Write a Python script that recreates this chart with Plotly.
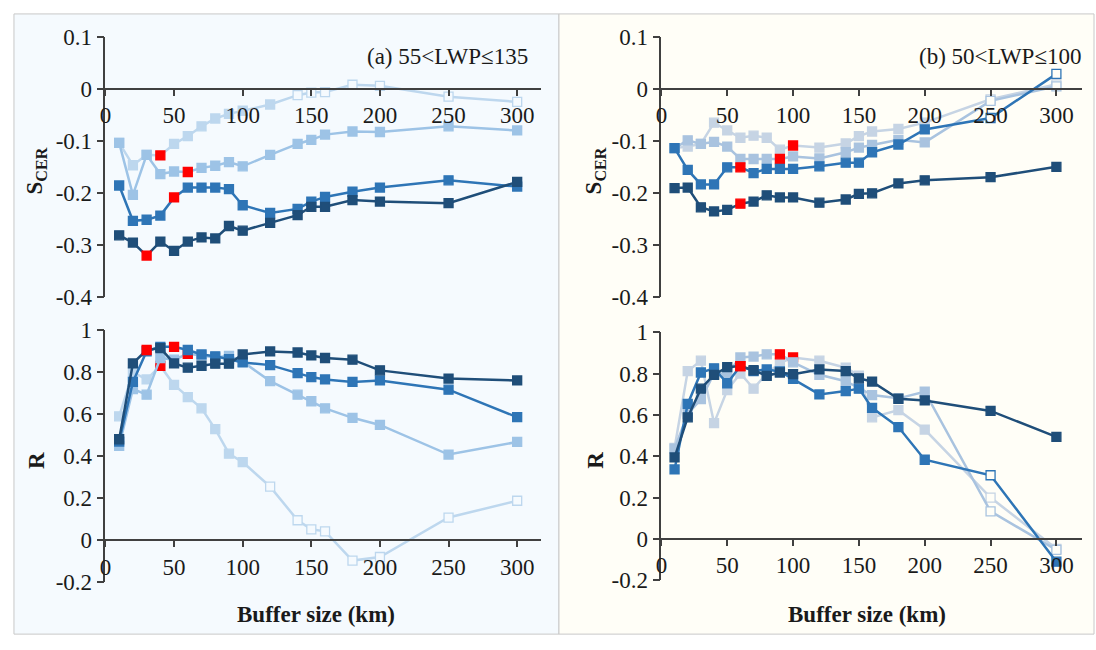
import plotly.graph_objects as go

# ---------------- data ----------------
BUFFER_KM = [10, 20, 30, 40, 50, 60, 70, 80, 90, 100, 120, 140, 150, 160, 180, 200, 250, 300]

X_TICKS = [0, 50, 100, 150, 200, 250, 300]
X_TICK_LABELS = ["0", "50", "100", "150", "200", "250", "300"]
S_TICKS = [0.1, 0, -0.1, -0.2, -0.3, -0.4]
S_TICK_LABELS = ["0.1", "0", "-0.1", "-0.2", "-0.3", "-0.4"]
R_TICKS = [1, 0.8, 0.6, 0.4, 0.2, 0, -0.2]
R_TICK_LABELS = ["1", "0.8", "0.6", "0.4", "0.2", "0", "-0.2"]

# Panel (a) 55<LWP<=135 : S_CER
a_s1 = [-0.282, -0.296, -0.321, -0.294, -0.312, -0.294, -0.286, -0.288, -0.264, -0.273, -0.258, -0.243, -0.227, -0.227, -0.214, -0.217, -0.220, -0.179]
a_s2 = [-0.186, -0.254, -0.252, -0.244, -0.209, -0.190, -0.190, -0.190, -0.193, -0.224, -0.239, -0.231, -0.217, -0.208, -0.198, -0.190, -0.176, -0.188]
a_s3 = [-0.104, -0.204, -0.127, -0.164, -0.159, -0.160, -0.152, -0.148, -0.141, -0.149, -0.127, -0.106, -0.098, -0.088, -0.082, -0.083, -0.072, -0.080]
a_s4 = [-0.104, -0.147, -0.127, -0.128, -0.106, -0.091, -0.072, -0.057, -0.048, -0.042, -0.030, -0.012, -0.007, -0.006, 0.008, 0.006, -0.015, -0.025]
# Panel (a) : R
a_r1 = [0.481, 0.842, 0.906, 0.915, 0.842, 0.822, 0.831, 0.841, 0.841, 0.885, 0.899, 0.894, 0.880, 0.868, 0.860, 0.809, 0.770, 0.761]
a_r2 = [0.470, 0.754, 0.900, 0.921, 0.921, 0.906, 0.885, 0.876, 0.862, 0.847, 0.834, 0.796, 0.777, 0.766, 0.754, 0.761, 0.717, 0.586]
a_r3 = [0.449, 0.720, 0.693, 0.868, 0.860, 0.888, 0.880, 0.870, 0.878, 0.850, 0.758, 0.693, 0.662, 0.628, 0.583, 0.549, 0.408, 0.468]
a_r4 = [0.590, 0.800, 0.766, 0.830, 0.740, 0.682, 0.628, 0.529, 0.412, 0.372, 0.255, 0.095, 0.052, 0.042, -0.097, -0.080, 0.108, 0.188]

# Panel (b) 50<LWP<=100 : S_CER
b_s1 = [-0.191, -0.190, -0.228, -0.236, -0.233, -0.221, -0.217, -0.205, -0.209, -0.209, -0.219, -0.213, -0.202, -0.201, -0.182, -0.176, -0.170, -0.150]
b_s2 = [-0.114, -0.156, -0.184, -0.184, -0.151, -0.151, -0.162, -0.154, -0.154, -0.154, -0.149, -0.142, -0.142, -0.122, -0.107, -0.078, -0.056, 0.029]
b_s3 = [-0.114, -0.099, -0.106, -0.102, -0.111, -0.135, -0.135, -0.135, -0.135, -0.130, -0.134, -0.122, -0.113, -0.108, -0.098, -0.103, -0.023, 0.005]
b_s4 = [-0.114, -0.111, -0.106, -0.065, -0.080, -0.094, -0.090, -0.094, -0.117, -0.109, -0.113, -0.105, -0.091, -0.082, -0.077, -0.065, -0.020, 0.009]
# Panel (b) : R
b_r1 = [0.394, 0.588, 0.727, 0.794, 0.831, 0.836, 0.816, 0.789, 0.805, 0.797, 0.820, 0.812, 0.777, 0.761, 0.678, 0.670, 0.619, 0.494]
b_r2 = [0.336, 0.653, 0.805, 0.825, 0.753, 0.836, 0.812, 0.820, 0.810, 0.774, 0.699, 0.715, 0.727, 0.634, 0.541, 0.383, 0.308, -0.110]
b_r3 = [0.437, 0.605, 0.676, 0.800, 0.800, 0.878, 0.882, 0.893, 0.893, 0.854, 0.794, 0.763, 0.730, 0.696, 0.680, 0.712, 0.133, -0.053]
b_r4 = [0.440, 0.812, 0.862, 0.560, 0.720, 0.800, 0.727, 0.800, 0.850, 0.878, 0.862, 0.828, 0.790, 0.588, 0.623, 0.529, 0.200, -0.048]

# highlighted (red) buffer size per series, panel a / panel b
a_red = [30, 50, 60, 40]
b_red = [60, 60, 90, 100]
# open (non-significant) markers per series
a_open_s = [[], [], [], [140, 150, 160, 180, 200, 250, 300]]
a_open_r = [[], [], [], [120, 140, 150, 160, 180, 200, 250, 300]]
b_open_s = [[], [250, 300], [250, 300], [250, 300]]
b_open_r = [[], [250], [250, 300], [250, 300]]

COLORS_A = ["#1F4E79", "#2E75B6", "#9DC3E6", "#BDD7EE"]
COLORS_B = ["#1F4E79", "#2E75B6", "#A9C3DF", "#C6D4E4"]
BG_A = "#F5FAFE"
BG_B = "#FFFEF7"

# ---------------- layout helpers ----------------
W, H = 1096, 650
def fx(px):
    return px / W
def fy(py):
    return 1 - py / H

FONT = "Liberation Serif"
TXT = "#1a1a1a"
AX = "#404040"

fig = go.Figure()

def add_series(y, color, red_x, open_x, xa, ya, bg):
    fills, lines = [], []
    for x in BUFFER_KM:
        if x == red_x:
            fills.append("#FF0000"); lines.append("#FF0000")
        elif x in open_x:
            fills.append(bg); lines.append(color)
        else:
            fills.append(color); lines.append(color)
    fig.add_trace(go.Scatter(
        x=BUFFER_KM, y=y, mode="lines+markers",
        line=dict(color=color, width=2.5),
        marker=dict(symbol="square", size=9, color=fills, line=dict(color=lines, width=1.3)),
        xaxis=xa, yaxis=ya, showlegend=False, hoverinfo="skip"))

panels = [
    ([a_s1, a_s2, a_s3, a_s4], COLORS_A, a_red, a_open_s, "x", "y", BG_A),
    ([a_r1, a_r2, a_r3, a_r4], COLORS_A, a_red, a_open_r, "x2", "y2", BG_A),
    ([b_s1, b_s2, b_s3, b_s4], COLORS_B, b_red, b_open_s, "x3", "y3", BG_B),
    ([b_r1, b_r2, b_r3, b_r4], COLORS_B, b_red, b_open_r, "x4", "y4", BG_B),
]
for series, cols, reds, opens, xa, ya, bg in panels:
    for i in [3, 2, 1, 0]:
        add_series(series[i], cols[i], reds[i], opens[i], xa, ya, bg)

tickfont = dict(family=FONT, size=23, color=TXT)

def yaxis_def(dom, rng, tv, tt, anchor):
    return dict(domain=dom, range=rng, tickvals=tv, ticktext=tt, anchor=anchor,
                showline=True, linecolor=AX, linewidth=1.5, ticks="outside",
                ticklen=7, tickcolor=AX, tickwidth=1.5, showgrid=False, zeroline=False,
                tickfont=tickfont)

def xaxis_def(dom, rng, ydom, yrng):
    pos = ydom[0] + (0 - yrng[0]) / (yrng[1] - yrng[0]) * (ydom[1] - ydom[0])
    return dict(domain=dom, range=rng, tickvals=X_TICKS, ticktext=X_TICK_LABELS,
                anchor="free", position=pos,
                showline=True, linecolor=AX, linewidth=1.5, ticks="outside",
                ticklen=6, tickcolor=AX, tickwidth=1.5, showgrid=False, zeroline=False,
                tickfont=tickfont)

XD_A = [fx(100), fx(538)]
XD_B = [fx(659), fx(1082)]
XR_A = [0, 317.4]
XR_B = [0, 319.5]
YD_TOP = [fy(296), fy(26)]
YD_BOT_A = [fy(593), fy(331)]
YD_BOT_B = [fy(591), fy(333)]
YR_S = [-0.4, 0.1]
YR_R = [-0.2, 1.0]

fig.update_layout(
    width=W, height=H,
    margin=dict(l=0, r=0, t=0, b=0),
    paper_bgcolor="white", plot_bgcolor="rgba(0,0,0,0)",
    xaxis=xaxis_def(XD_A, XR_A, YD_TOP, YR_S),
    yaxis=yaxis_def(YD_TOP, YR_S, S_TICKS, S_TICK_LABELS, "x"),
    xaxis2=xaxis_def(XD_A, XR_A, YD_BOT_A, YR_R),
    yaxis2=yaxis_def(YD_BOT_A, YR_R, R_TICKS, R_TICK_LABELS, "x2"),
    xaxis3=xaxis_def(XD_B, XR_B, YD_TOP, YR_S),
    yaxis3=yaxis_def(YD_TOP, YR_S, S_TICKS, S_TICK_LABELS, "x3"),
    xaxis4=xaxis_def(XD_B, XR_B, YD_BOT_B, YR_R),
    yaxis4=yaxis_def(YD_BOT_B, YR_R, R_TICKS, R_TICK_LABELS, "x4"),
    shapes=[
        dict(type="rect", xref="paper", yref="paper", x0=fx(8), x1=fx(556), y0=fy(647), y1=fy(2),
             fillcolor=BG_A, line=dict(color="#C8C8C8", width=1), layer="below"),
        dict(type="rect", xref="paper", yref="paper", x0=fx(556), x1=fx(1094), y0=fy(647), y1=fy(2),
             fillcolor=BG_B, line=dict(color="#C8C8C8", width=1), layer="below"),
    ],
)

ann = []
def text(px, py, s, size=20, bold=False, angle=0, xanchor="center"):
    ann.append(dict(x=fx(px), y=fy(py), xref="paper", yref="paper", text=("<b>%s</b>" % s) if bold else s,
                    showarrow=False, textangle=angle, xanchor=xanchor, yanchor="middle",
                    font=dict(family=FONT, size=size, color=TXT)))

text(444, 46, "(a) 55&lt;LWP≤135", size=23)
text(1000, 46, "(b) 50&lt;LWP≤100", size=23)
text(312, 627, "Buffer size (km)", size=23, bold=True)
text(866, 627, "Buffer size (km)", size=23, bold=True)
for px in (30, 592):
    text(px, 165, "S<sub>CER</sub>", size=23, bold=True, angle=-90)
    text(px, 466, "R", size=23, bold=True, angle=-90)
fig.update_layout(annotations=ann)

fig.write_html("out.html")
